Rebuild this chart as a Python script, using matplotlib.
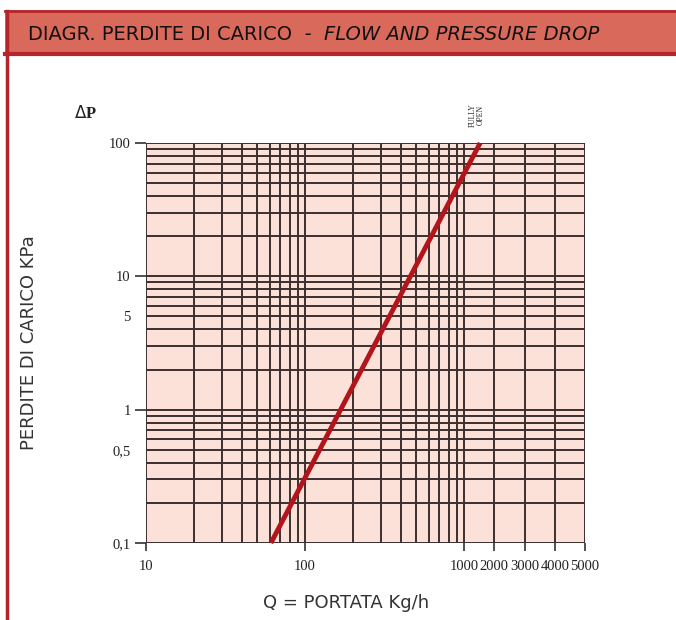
import numpy as np
import matplotlib.pyplot as plt
from matplotlib.patches import Rectangle
from matplotlib.lines import Line2D

q_line = [61, 1530]          # portata Kg/h agli estremi della retta
dp_line = [0.1, 100]         # perdita di carico kPa

x_grid = [10, 20, 30, 40, 50, 60, 70, 80, 90,
          100, 200, 300, 400, 500, 600, 700, 800, 900,
          1000, 2000, 3000, 4000, 5000]
y_grid = [0.1, 0.2, 0.3, 0.4, 0.5, 0.6, 0.7, 0.8, 0.9,
          1, 2, 3, 4, 5, 6, 7, 8, 9,
          10, 20, 30, 40, 50, 60, 70, 80, 90, 100]

x_ticks = [10, 100, 1000, 2000, 3000, 4000, 5000]
x_labels = ['10', '100', '1000', '2000', '3000', '4000', '5000']
y_major = [0.1, 1, 10, 100]
y_major_labels = ['0,1', '1', '10', '100']
y_minor = [0.5, 5]
y_minor_labels = ['0,5', '5']

# scala: log fino a 1000, poi lineare compressa (come nel disegno originale)
K = 0.19


def fwd(x):
    x = np.asarray(x, dtype=float)
    xc = np.clip(x, 1e-9, None)
    return np.where(x <= 1000, np.log10(xc), 3 + (x - 1000) / 1000 * K)


def inv(u):
    u = np.asarray(u, dtype=float)
    return np.where(u <= 3, 10 ** np.minimum(u, 3), 1000 + (u - 3) / K * 1000)


W, H = 676, 620
fig = plt.figure(figsize=(W / 100, H / 100), dpi=100)

# intestazione rossa
red_band = '#d9695a'
red_dark = '#b5262a'
fig.patches.append(Rectangle((5 / W, 1 - 55 / H), 1, 45 / H, transform=fig.transFigure,
                             facecolor=red_band, edgecolor='none'))
fig.add_artist(Line2D([5 / W, 1], [1 - 11 / H, 1 - 11 / H], color=red_dark, lw=2))
fig.add_artist(Line2D([5 / W, 1], [1 - 54 / H, 1 - 54 / H], color=red_dark, lw=3))
fig.add_artist(Line2D([7 / W, 7 / W], [0, 1 - 11 / H], color=red_dark, lw=2.5))

t1 = fig.text(28 / W, 1 - 34 / H, 'DIAGR. PERDITE DI CARICO  -  ', fontsize=14,
              family='DejaVu Sans', va='center', ha='left', color='#111111')
fig.canvas.draw()
bb = t1.get_window_extent()
fig.text(bb.x1 / W, 1 - 34 / H, 'FLOW AND PRESSURE DROP', fontsize=14, style='italic',
         family='DejaVu Sans', va='center', ha='left', color='#111111')

ax = fig.add_axes([146 / W, 1 - 543 / H, (585 - 146) / W, 400 / H])
ax.set_xscale('function', functions=(fwd, inv))
ax.set_yscale('log')
ax.set_xlim(10, 5000)
ax.set_ylim(0.1, 100)
ax.set_facecolor('#fbe1d8')

gcol = '#3b2f2f'
for xv in x_grid:
    ax.axvline(xv, color=gcol, lw=1.4, zorder=1)
for yv in y_grid:
    ax.axhline(yv, color=gcol, lw=1.4, zorder=1)

ax.plot(q_line, dp_line, color='#b3141b', lw=3.5, zorder=3, clip_on=False, solid_capstyle='butt')

for s in ax.spines.values():
    s.set_visible(False)

ax.set_xticks(x_ticks)
ax.set_xticklabels(x_labels)
ax.xaxis.set_minor_locator(plt.NullLocator())
ax.set_yticks(y_major)
ax.set_yticklabels(y_major_labels)
ax.set_yticks(y_minor, minor=True)
ax.set_yticklabels(y_minor_labels, minor=True)

for lab in ax.get_xticklabels() + ax.get_yticklabels() + ax.get_yticklabels(minor=True):
    lab.set_family('Liberation Serif')
    lab.set_fontsize(10.5)
    lab.set_color('#222222')
ax.tick_params(axis='x', length=6, width=1.2, color=gcol, pad=6)
ax.tick_params(axis='y', which='major', length=8, width=1.2, color=gcol, pad=3)
ax.tick_params(axis='y', which='minor', length=0, pad=11)

ax.set_xlabel('Q = PORTATA Kg/h', fontsize=13, family='DejaVu Sans', color='#333333')
ax.xaxis.set_label_coords(0.456, -0.1275)
ax.set_ylabel('PERDITE DI CARICO KPa', fontsize=13, family='DejaVu Sans', color='#333333')
ax.yaxis.set_label_coords(-0.246, 0.5)

fig.text(85 / W, 1 - 113 / H, r'$\Delta$P', fontsize=12, family='Liberation Serif',
         weight='bold', ha='center', va='center', color='#222222')
fig.text(477 / W, 1 - 115 / H, 'FULLY\nOPEN', fontsize=5.5, family='Liberation Serif',
         rotation=90, ha='center', va='center', color='#222222', linespacing=1.0)

fig.savefig('out.png', dpi=100)
